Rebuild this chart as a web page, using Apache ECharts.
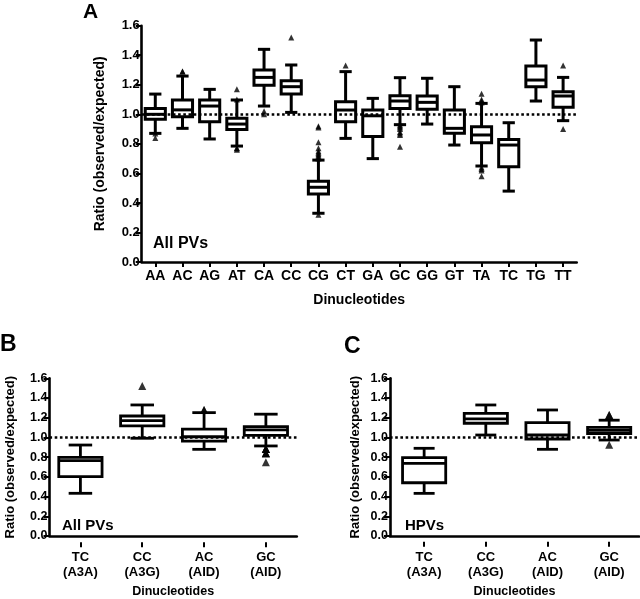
<!DOCTYPE html>
<html><head><meta charset="utf-8">
<script src="https://cdn.jsdelivr.net/npm/echarts@6/dist/echarts.min.js"></script>
<style>html,body{margin:0;padding:0;background:#fff}#c{width:640px;height:599px}</style>
</head><body><div id="c"></div>
<script>
// ---------- Panel A: All PVs, 16 dinucleotides ----------
const catsA = ['AA','AC','AG','AT','CA','CC','CG','CT','GA','GC','GG','GT','TA','TC','TG','TT'];
const lowA  = [0.871,0.905,0.833,0.785,1.056,1.013,0.330,0.837,0.700,0.930,0.934,0.792,0.650,0.480,1.090,0.957];
const q1A   = [0.966,0.984,0.950,0.898,1.196,1.137,0.460,0.950,0.849,1.040,1.034,0.871,0.808,0.645,1.187,1.047];
const medA  = [1.000,1.030,1.056,0.934,1.250,1.187,0.506,1.029,0.990,1.090,1.081,0.905,0.860,0.792,1.232,1.124];
const q3A   = [1.040,1.097,1.097,0.973,1.300,1.228,0.546,1.085,1.029,1.126,1.124,1.029,0.916,0.830,1.327,1.153];
const highA = [1.137,1.259,1.169,1.097,1.440,1.334,0.690,1.289,1.108,1.248,1.244,1.187,1.074,0.943,1.503,1.250];
const outA  = [
  [0.84,0.87],[1.29,1.29],[],[1.17,1.10,0.77,0.76,0.77],
  [1.02,1.00],[1.52],[0.92,0.91,0.81,0.77,0.75,0.74,0.73,0.72,0.71,0.70,0.32],[1.33],
  [],[0.93,0.92,0.91,0.90,0.88,0.87,0.86,0.78],[],[],
  [1.14,1.10,1.09,1.08,0.64,0.63,0.62,0.58],[],[],[1.33,0.90]
];
// ---------- Panels B and C: enzyme-targeted dinucleotides ----------
const catsBC = ['TC\n(A3A)','CC\n(A3G)','AC\n(AID)','GC\n(AID)'];
const lowB  = [0.478,1.015,0.907,0.940];
const q1B   = [0.640,1.135,0.988,1.044];
const medB  = [0.796,1.187,1.030,1.096];
const q3B   = [0.829,1.232,1.105,1.128];
const highB = [0.949,1.340,1.265,1.250];
const outB  = [[],[1.525],[1.29,1.29],[0.91,0.91,0.91,0.91,0.87,0.87,0.87,0.78]];
const lowC  = [0.474,1.045,0.905,0.996];
const q1C   = [0.578,1.160,1.006,1.060];
const medC  = [0.768,1.202,1.045,1.090];
const q3C   = [0.823,1.257,1.166,1.120];
const highC = [0.915,1.339,1.290,1.190];
const outC  = [[],[],[],[1.24,1.24,0.95]];
const refValue = 1.0;
const yTicks = {min:0, max:1.6, interval:0.2};
const labelsText = {A:'All PVs', B:'All PVs', C:'HPVs'};

const FONT = '"Liberation Sans", Arial, Helvetica, sans-serif';

function boxData(lo,q1,md,q3,hi){ return lo.map((v,i)=>[i,v,q1[i],md[i],q3[i],hi[i]]); }
function outData(o){ const r=[]; o.forEach((arr,i)=>arr.forEach(v=>r.push([i,v]))); return r; }

function boxRender(boxRatio, capRatio, lw){
  return function(params, api){
    const x = api.value(0);
    const lo = api.coord([x, api.value(1)]);
    const q1 = api.coord([x, api.value(2)]);
    const md = api.coord([x, api.value(3)]);
    const q3 = api.coord([x, api.value(4)]);
    const hi = api.coord([x, api.value(5)]);
    const band = api.size([1,0])[0];
    const bw = band*boxRatio, cw = band*capRatio, cx = lo[0];
    const st = {stroke:'#000', lineWidth:lw};
    return {type:'group', children:[
      {type:'line', shape:{x1:cx,y1:hi[1],x2:cx,y2:q3[1]}, style:st},
      {type:'line', shape:{x1:cx,y1:q1[1],x2:cx,y2:lo[1]}, style:st},
      {type:'line', shape:{x1:cx-cw/2,y1:hi[1],x2:cx+cw/2,y2:hi[1]}, style:st},
      {type:'line', shape:{x1:cx-cw/2,y1:lo[1],x2:cx+cw/2,y2:lo[1]}, style:st},
      {type:'rect', shape:{x:cx-bw/2,y:q3[1],width:bw,height:q1[1]-q3[1]}, style:{stroke:'#000',lineWidth:lw,fill:'#fff'}},
      {type:'line', shape:{x1:cx-bw/2,y1:md[1],x2:cx+bw/2,y2:md[1]}, style:st}
    ]};
  };
}

const grids = [
  {left:141.7, top:25.7, width:435, height:236.3},   // 0 A frame
  {left:141.7, top:25.7, width:435, height:236.3},   // 1 A data
  {left:49.5, top:378.3, width:247.3, height:164},   // 2 B frame
  {left:49.5, top:378.3, width:247.3, height:164},   // 3 B data
  {left:390, top:378.3, width:249, height:163.5},    // 4 C frame
  {left:393.3, top:378.3, width:247.5, height:163.5} // 5 C data
];

function frameX(gi, gap, fs){
  return {type:'value', gridIndex:gi, min:0, max:1,
    axisLine:{show:true, onZero:false, lineStyle:{color:'#000', width:2.6}},
    axisTick:{show:false}, axisLabel:{show:false}, splitLine:{show:false},
    name:'Dinucleotides', nameLocation:'middle', nameGap:gap,
    nameTextStyle:{color:'#000', fontWeight:'bold', fontSize:fs, fontFamily:FONT}};
}
function dataX(gi, cats, fs, margin){
  return {type:'category', gridIndex:gi, data:cats, boundaryGap:true,
    axisLine:{show:false},
    axisTick:{show:true, alignWithLabel:true, length:5, lineStyle:{color:'#000', width:2}},
    axisLabel:{color:'#000', fontWeight:'bold', fontSize:fs, fontFamily:FONT, margin:margin, lineHeight:15, interval:0},
    splitLine:{show:false}};
}
function frameY(gi, gap, fs, nfs){
  return Object.assign({type:'value', gridIndex:gi,
    axisLine:{show:true, lineStyle:{color:'#000', width:2.6}},
    axisTick:{show:true, length:6, lineStyle:{color:'#000', width:2}},
    axisLabel:{color:'#000', fontWeight:'bold', fontSize:fs, fontFamily:FONT, margin:2, formatter:v=>v.toFixed(1)},
    splitLine:{show:false},
    name:'Ratio (observed/expected)', nameLocation:'middle', nameGap:gap, nameRotate:90,
    nameTextStyle:{color:'#000', fontWeight:'bold', fontSize:nfs, fontFamily:FONT}}, yTicks);
}
function dataY(gi){
  return Object.assign({type:'value', gridIndex:gi, show:false, splitLine:{show:false}}, yTicks);
}
function refSeries(ai){
  return {type:'line', xAxisIndex:ai, yAxisIndex:ai, data:[], z:6, silent:true,
    markLine:{silent:true, symbol:'none', label:{show:false}, animation:false,
      lineStyle:{color:'#000', width:2.6, type:[2.6,2.6]}, data:[{yAxis:refValue}]}};
}
function boxSeries(ai, d, br, cr, lw){
  return {type:'custom', xAxisIndex:ai, yAxisIndex:ai, data:d, z:3,
    encode:{x:0, y:[1,2,3,4,5]}, renderItem:boxRender(br,cr,lw)};
}
function outSeries(ai, d, sz){
  return {type:'scatter', xAxisIndex:ai, yAxisIndex:ai, data:d, z:7,
    symbol:'triangle', symbolSize:sz, itemStyle:{color:'#000'}};
}

const option = {
  animation:false,
  backgroundColor:'#fff',
  grid:grids,
  xAxis:[frameX(0,31,14), dataX(1,catsA,14,7), frameX(2,49,12.5), dataX(3,catsBC,13,8), frameX(4,49,12.5), dataX(5,catsBC,13,8)],
  yAxis:[frameY(0,35,13,14), dataY(1), frameY(2,32.5,12.5,13), dataY(3), frameY(4,28.5,12.5,13), dataY(5)],
  series:[
    refSeries(0),
    boxSeries(1, boxData(lowA,q1A,medA,q3A,highA), 0.74, 0.45, 3),
    outSeries(1, outData(outA), 6),
    refSeries(2),
    boxSeries(3, boxData(lowB,q1B,medB,q3B,highB), 0.70, 0.38, 2.8),
    outSeries(3, outData(outB), 8),
    refSeries(4),
    boxSeries(5, boxData(lowC,q1C,medC,q3C,highC), 0.70, 0.34, 2.8),
    outSeries(5, outData(outC), 8)
  ],
  graphic:[
    {type:'text', left:83, top:2, style:{text:'A', font:'bold 21px '+FONT, fill:'#000'}},
    {type:'text', left:153, top:236, style:{text:labelsText.A, font:'bold 16px '+FONT, fill:'#000'}},
    {type:'text', left:0, top:333, style:{text:'B', font:'bold 23px '+FONT, fill:'#000'}},
    {type:'text', left:62, top:518, style:{text:labelsText.B, font:'bold 15px '+FONT, fill:'#000'}},
    {type:'text', left:344, top:335, style:{text:'C', font:'bold 23px '+FONT, fill:'#000'}},
    {type:'text', left:405, top:518, style:{text:labelsText.C, font:'bold 15px '+FONT, fill:'#000'}}
  ]
};
const chart = echarts.init(document.getElementById('c'), null, {renderer:'canvas'});
chart.setOption(option);
</script></body></html>
